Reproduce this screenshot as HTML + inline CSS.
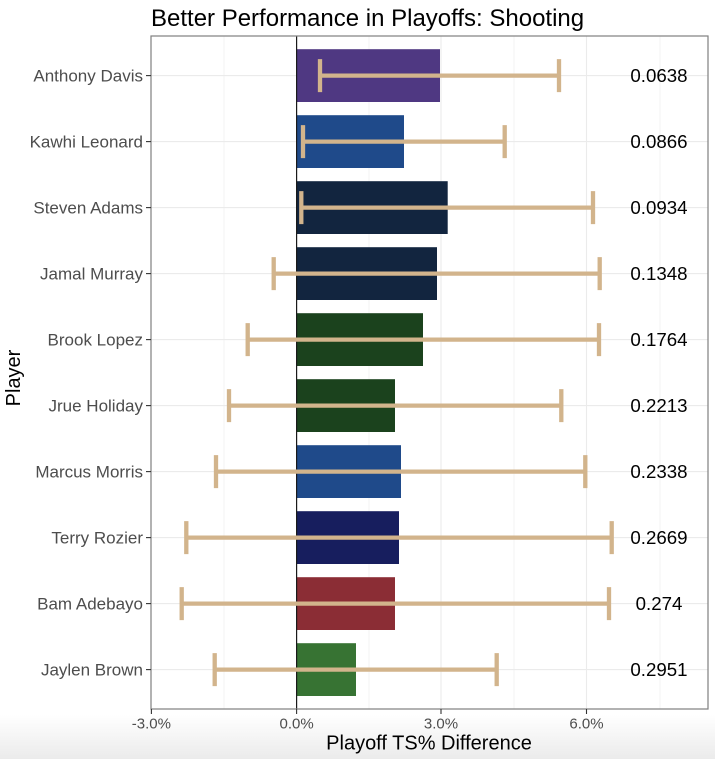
<!DOCTYPE html>
<html><head><meta charset="utf-8"><style>
html,body{margin:0;padding:0;background:#fff;}
svg{display:block;}
text{font-family:"Liberation Sans",Arial,sans-serif;}
</style></head><body>
<svg width="715" height="759" viewBox="0 0 715 759" xmlns="http://www.w3.org/2000/svg">
<defs>
<linearGradient id="bg" x1="0" y1="0" x2="0" y2="1">
<stop offset="0" stop-color="#ffffff"/>
<stop offset="1" stop-color="#ebebeb"/>
</linearGradient>
</defs>
<rect x="0" y="0" width="715" height="759" fill="#fff"/>
<rect x="0" y="715" width="715" height="44" fill="url(#bg)"/>
<!-- panel -->
<rect x="151" y="36" width="557" height="673" fill="#fff"/>
<!-- minor grid -->
<g stroke="#f3f3f3" stroke-width="1">
<line x1="224" y1="36" x2="224" y2="709"/>
<line x1="369" y1="36" x2="369" y2="709"/>
<line x1="514" y1="36" x2="514" y2="709"/>
<line x1="660" y1="36" x2="660" y2="709"/>
</g>
<!-- major grid -->
<g stroke="#ebebeb" stroke-width="1.1">
<line x1="441" y1="36" x2="441" y2="709"/>
<line x1="586.5" y1="36" x2="586.5" y2="709"/>
<line x1="151" y1="75.6" x2="708" y2="75.6"/>
<line x1="151" y1="141.6" x2="708" y2="141.6"/>
<line x1="151" y1="207.6" x2="708" y2="207.6"/>
<line x1="151" y1="273.6" x2="708" y2="273.6"/>
<line x1="151" y1="339.6" x2="708" y2="339.6"/>
<line x1="151" y1="405.6" x2="708" y2="405.6"/>
<line x1="151" y1="471.6" x2="708" y2="471.6"/>
<line x1="151" y1="537.6" x2="708" y2="537.6"/>
<line x1="151" y1="603.6" x2="708" y2="603.6"/>
<line x1="151" y1="669.6" x2="708" y2="669.6"/>
</g>
<!-- bars -->
<rect x="297" y="49.2" width="143" height="52.8" fill="#4F3882"/>
<rect x="297" y="115.2" width="107" height="52.8" fill="#1F4A8A"/>
<rect x="297" y="181.2" width="150.7" height="52.8" fill="#12253F"/>
<rect x="297" y="247.2" width="140" height="52.8" fill="#12253F"/>
<rect x="297" y="313.2" width="126" height="52.8" fill="#1B421D"/>
<rect x="297" y="379.2" width="98" height="52.8" fill="#1B421D"/>
<rect x="297" y="445.2" width="104" height="52.8" fill="#1F4A8A"/>
<rect x="297" y="511.2" width="102" height="52.8" fill="#171E5E"/>
<rect x="297" y="577.2" width="98" height="52.8" fill="#8B2D35"/>
<rect x="297" y="643.2" width="59" height="52.8" fill="#377333"/>
<!-- zero line -->
<line x1="296.6" y1="36" x2="296.6" y2="709" stroke="#1a1a1a" stroke-width="1.2"/>
<!-- error bars -->
<g stroke="#D2B48C" stroke-width="4.3" fill="none">
<path d="M320 75.6H559M320 59.1V92.1M559 59.1V92.1"/>
<path d="M303 141.6H504.7M303 125.1V158.1M504.7 125.1V158.1"/>
<path d="M301.3 207.6H593M301.3 191.1V224.1M593 191.1V224.1"/>
<path d="M273.7 273.6H599.7M273.7 257.1V290.1M599.7 257.1V290.1"/>
<path d="M247.7 339.6H599M247.7 323.1V356.1M599 323.1V356.1"/>
<path d="M229 405.6H561.3M229 389.1V422.1M561.3 389.1V422.1"/>
<path d="M216 471.6H585.3M216 455.1V488.1M585.3 455.1V488.1"/>
<path d="M186.3 537.6H611.7M186.3 521.1V554.1M611.7 521.1V554.1"/>
<path d="M181.7 603.6H609M181.7 587.1V620.1M609 587.1V620.1"/>
<path d="M214.7 669.6H496.7M214.7 653.1V686.1M496.7 653.1V686.1"/>
</g>
<!-- value labels -->
<g font-size="18.7" fill="#000" text-anchor="middle">
<text x="659" y="82">0.0638</text>
<text x="659" y="148">0.0866</text>
<text x="659" y="214">0.0934</text>
<text x="659" y="280">0.1348</text>
<text x="659" y="346">0.1764</text>
<text x="659" y="412">0.2213</text>
<text x="659" y="478">0.2338</text>
<text x="659" y="544">0.2669</text>
<text x="659" y="610">0.274</text>
<text x="659" y="676">0.2951</text>
</g>
<!-- panel border -->
<rect x="151" y="36" width="557" height="673" fill="none" stroke="#7f7f7f" stroke-width="1.2"/>
<!-- ticks -->
<g stroke="#333" stroke-width="1.1">
<line x1="146" y1="75.6" x2="151" y2="75.6"/>
<line x1="146" y1="141.6" x2="151" y2="141.6"/>
<line x1="146" y1="207.6" x2="151" y2="207.6"/>
<line x1="146" y1="273.6" x2="151" y2="273.6"/>
<line x1="146" y1="339.6" x2="151" y2="339.6"/>
<line x1="146" y1="405.6" x2="151" y2="405.6"/>
<line x1="146" y1="471.6" x2="151" y2="471.6"/>
<line x1="146" y1="537.6" x2="151" y2="537.6"/>
<line x1="146" y1="603.6" x2="151" y2="603.6"/>
<line x1="146" y1="669.6" x2="151" y2="669.6"/>
<line x1="151.4" y1="709" x2="151.4" y2="714"/>
<line x1="296.6" y1="709" x2="296.6" y2="714"/>
<line x1="441" y1="709" x2="441" y2="714"/>
<line x1="586.5" y1="709" x2="586.5" y2="714"/>
</g>
<g font-size="17" fill="#4d4d4d" text-anchor="end">
<text x="143" y="81.5">Anthony Davis</text>
<text x="143" y="147.5">Kawhi Leonard</text>
<text x="143" y="213.5">Steven Adams</text>
<text x="143" y="279.5">Jamal Murray</text>
<text x="143" y="345.5">Brook Lopez</text>
<text x="143" y="411.5">Jrue Holiday</text>
<text x="143" y="477.5">Marcus Morris</text>
<text x="143" y="543.5">Terry Rozier</text>
<text x="143" y="609.5">Bam Adebayo</text>
<text x="143" y="675.5">Jaylen Brown</text>
</g>
<g font-size="15" fill="#4d4d4d" text-anchor="middle">
<text x="151.4" y="728.5">-3.0%</text>
<text x="296.6" y="728.5">0.0%</text>
<text x="441" y="728.5">3.0%</text>
<text x="586.5" y="728.5">6.0%</text>
</g>
<text x="429" y="749.5" font-size="20" fill="#000" text-anchor="middle">Playoff TS% Difference</text>
<text x="0" y="0" font-size="20" fill="#000" text-anchor="middle" transform="translate(20 378) rotate(-90)">Player</text>
<text x="151" y="26" font-size="24" fill="#000">Better Performance in Playoffs: Shooting</text>
</svg>
</body></html>
